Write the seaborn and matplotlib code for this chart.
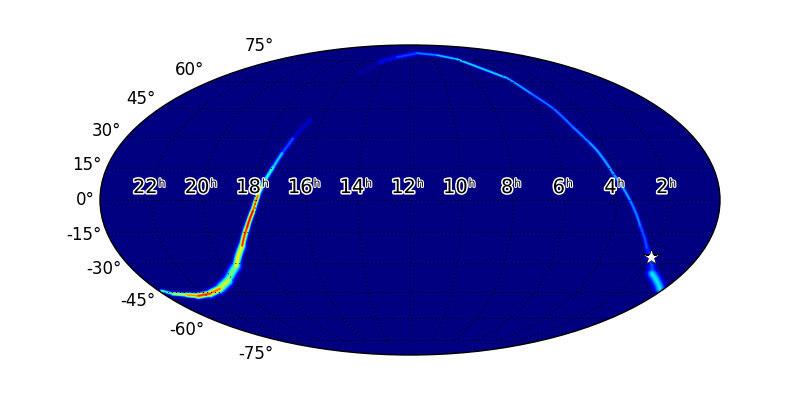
"""Sky localisation map on a Mollweide projection."""

import numpy as np
import pandas as pd
import matplotlib
import matplotlib.pyplot as plt
import matplotlib.patheffects as pe
import seaborn as sns

matplotlib.use("Agg")

# Ridge of the probability band
ra_hours = [23.87, 23.53, 22.91, 22.44, 21.73, 20.97, 20.25, 19.43, 18.80, 18.41,
            18.09, 17.89, 17.66, 17.42, 17.19, 16.93, 16.52, 15.42, 14.55, 13.30,
            11.15, 9.05, 7.63, 6.72, 5.92, 5.57, 5.13, 4.85, 4.51, 4.36,
            4.02, 3.49, 2.97, 2.37, 1.99, 1.34, 0.20]
dec_deg = [-44.5, -46.1, -46.7, -47.2, -46.1, -43.4, -39.2, -31.6, -21.7, -13.0,
           -5.0, 2.1, 9.2, 15.4, 22.2, 29.5, 38.7, 66.1, 73.2, 76.9,
           80.3, 78.6, 75.2, 68.3, 62.3, 53.5, 45.0, 35.0, 27.1, 23.6,
           12.5, 0.0, -12.1, -22.6, -27.5, -35.6, -43.4]
peak = [0.40, 0.55, 0.70, 0.90, 0.90, 0.75, 0.50, 0.55, 0.85, 0.95,
        0.95, 0.75, 0.50, 0.42, 0.30, 0.15, 0.015, 0.015, 0.08, 0.18,
        0.24, 0.36, 0.38, 0.42, 0.38, 0.30, 0.28, 0.28, 0.32, 0.34,
        0.34, 0.32, 0.28, 0.22, 0.18, 0.25, 0.50]
spread_px = [1.0, 1.2, 1.5, 1.8, 2.2, 3.0, 4.0, 3.0, 2.1, 1.8,
             1.7, 1.6, 1.5, 1.5, 1.5, 1.8, 2.5, 2.0, 2.0, 2.0,
             1.2, 0.9, 0.9, 0.9, 0.9, 1.0, 1.0, 1.2, 1.2, 1.2,
             1.2, 1.2, 1.4, 1.6, 2.5, 3.5, 4.0]

levels = [0.02, 0.05, 0.08, 0.12, 0.16, 0.20, 0.25, 0.30, 0.35, 0.40,
          0.46, 0.52, 0.58, 0.64, 0.70, 0.76, 0.82, 0.88, 0.94]

source_ra = [1.99]
source_dec = [-27.2]

ra_labels = [22, 20, 18, 16, 14, 12, 10, 8, 6, 4, 2]
dec_labels = [75, 60, 45, 30, 15, 0, -15, -30, -45, -60, -75]

sns.set_style("white")
plt.rcParams["font.family"] = "DejaVu Sans"


def to_lon(hours):
    # RA grows to the left, 12h in the middle
    return np.radians((12 - np.asarray(hours)) * 15.0)


def band_table():
    # One short piece per ridge step and contour level, widths in points
    rows = []
    for level in levels:
        for i in range(len(ra_hours) - 1):
            top = (peak[i] + peak[i + 1]) / 2
            if top <= level:
                continue
            sigma = (spread_px[i] + spread_px[i + 1]) / 2
            width = 2 * sigma * np.sqrt(2 * np.log(top / level)) * 0.72
            for j in (i, i + 1):
                rows.append({
                    "lon": to_lon(ra_hours[j]),
                    "lat": np.radians(dec_deg[j]),
                    "level": level,
                    "width": round(width, 1),
                    "piece": i,
                })
    return pd.DataFrame(rows)


jet = plt.get_cmap("jet")

fig = plt.figure(figsize=(8, 4), dpi=100)
ax = fig.add_axes([0.125, 0.1125, 0.775, 0.775], projection="mollweide")
ax.set_facecolor(jet(0.0))

band = band_table()
sns.lineplot(
    data=band, x="lon", y="lat", hue="level", size="width", units="piece",
    estimator=None, sort=False, palette=jet, hue_norm=(0, 1),
    sizes=(0.1, 12.0), size_norm=(0.1, 12.0), legend=False, ax=ax,
    solid_capstyle="round",
)

sns.scatterplot(
    x=to_lon(source_ra), y=np.radians(source_dec), marker="*", s=140,
    color="white", edgecolor="black", linewidth=0.4, zorder=5, ax=ax,
)

ax.set_xlabel("")
ax.set_ylabel("")
ax.grid(True, color="black", linestyle=(0, (1, 3)), linewidth=0.7)
ax.set_axisbelow(False)
ax.spines["geo"].set_edgecolor("black")
ax.spines["geo"].set_linewidth(1.0)
ax.set_xticks(to_lon(ra_labels))
ax.set_xticklabels([])
ax.set_yticks(np.radians(dec_labels))
ax.set_yticklabels([])

# Declination labels use the projection's own label transform, nudged right
label_trans = ax.get_yaxis_text1_transform(0)[0]
for d in dec_labels:
    ax.annotate(
        f"{d}\N{DEGREE SIGN}", xy=(0.0, np.radians(d)), xycoords=label_trans,
        xytext=(2.2, 0), textcoords="offset points", ha="right", va="center",
        fontsize=12, color="black", annotation_clip=False,
    )

# Hour labels: digits and a small raised h, split so the h stays low and tight
for h in ra_labels:
    shift = 4.3 if h >= 10 else 0.0
    ax.annotate(
        str(h), xy=(to_lon(h), 0.0), xytext=(shift, 5), textcoords="offset points",
        ha="right", va="baseline", fontsize=14, color="black", zorder=6,
        path_effects=[pe.withStroke(linewidth=2.2, foreground="white")],
    )
    ax.annotate(
        "h", xy=(to_lon(h), 0.0), xytext=(shift + 0.6, 9.5), textcoords="offset points",
        ha="left", va="baseline", fontsize=8, color="black", zorder=6,
        path_effects=[pe.withStroke(linewidth=1.6, foreground="white")],
    )

fig.savefig("out.png", dpi=100)
plt.close(fig)
